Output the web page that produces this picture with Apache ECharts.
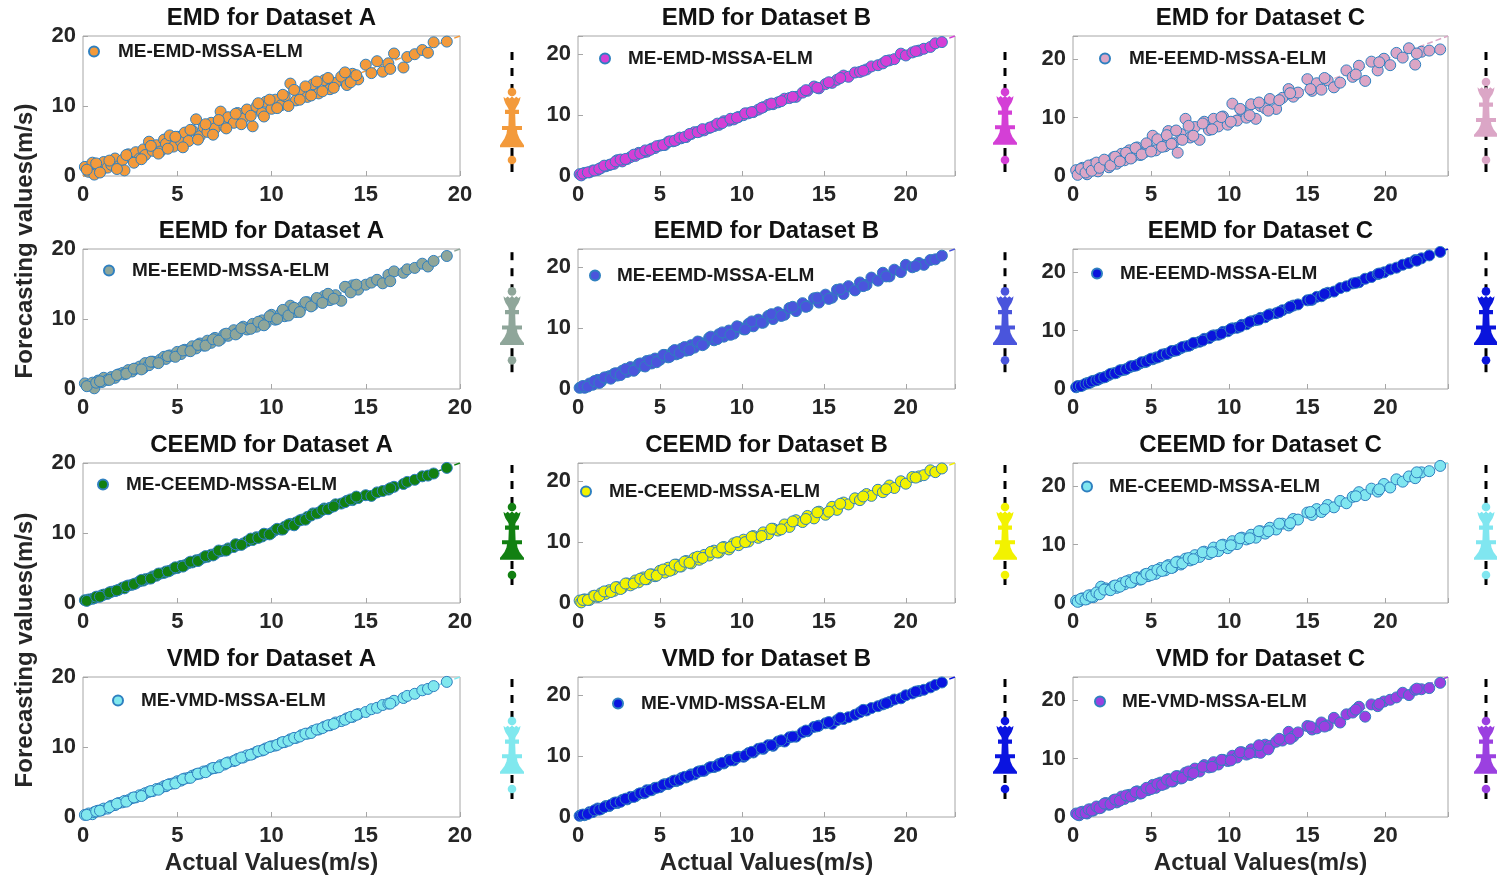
<!DOCTYPE html>
<html>
<head>
<meta charset="utf-8">
<title>Forecasting vs actual</title>
<script src="https://cdn.jsdelivr.net/npm/echarts@6/dist/echarts.min.js"></script>
<style>
  html, body { margin: 0; padding: 0; background: #fff; }
  #main { width: 1497px; height: 882px; }
</style>
</head>
<body>
<div id="main"></div>
<script>
// 实际值 (三个数据集)
var xA = [0.1, 0.3, 0.5, 0.6, 0.8, 1.0, 1.1, 1.3, 1.5, 1.7,
  1.9, 2.1, 2.2, 2.4, 2.6, 2.8, 3.0, 3.2, 3.3, 3.5,
  3.7, 3.9, 4.1, 4.3, 4.4, 4.6, 4.8, 5.0, 5.2, 5.4,
  5.6, 5.8, 6.0, 6.2, 6.4, 6.6, 6.8, 7.0, 7.3, 7.5,
  7.7, 8.0, 8.2, 8.5, 8.7, 9.0, 9.2, 9.5, 9.7, 10.0,
  10.2, 10.5, 10.7, 11.0, 11.3, 11.6, 11.9, 12.2, 12.5, 12.8,
  13.1, 13.4, 13.7, 14.0, 14.3, 14.6, 15.0, 15.3, 15.6, 15.9,
  16.2, 16.5, 17.0, 17.2, 17.6, 18.0, 18.3, 18.6, 19.3,
  0.2, 0.7, 0.9, 1.4, 1.8, 2.3, 2.7, 3.1, 3.6, 4.0,
  4.5, 4.9, 5.3, 5.7, 6.1, 6.5, 6.9, 7.2, 7.6, 8.1,
  8.4, 8.9, 9.3, 9.6, 9.9, 10.3, 10.6, 10.9, 11.2, 11.5,
  11.8, 12.1, 12.4, 12.7, 13.0, 13.3, 13.9, 14.2, 14.5, 16.3];
var xB = [0.1, 0.2, 0.4, 0.7, 0.9, 1.2, 1.4, 1.7, 1.9, 2.2,
  2.4, 2.7, 3.0, 3.2, 3.5, 3.7, 4.0, 4.2, 4.5, 4.7,
  5.0, 5.3, 5.5, 5.8, 6.0, 6.3, 6.6, 6.9, 7.1, 7.4,
  7.7, 8.0, 8.3, 8.6, 8.9, 9.2, 9.5, 9.8, 10.1, 10.4,
  10.7, 11.0, 11.3, 11.6, 11.9, 12.2, 12.6, 12.9, 13.3, 13.7,
  14.0, 14.4, 14.7, 15.1, 15.5, 15.8, 16.2, 16.5, 16.9, 17.2,
  17.6, 17.9, 18.3, 18.6, 19.0, 19.3, 19.7, 20.0, 20.4, 20.8,
  21.1, 21.5, 21.8, 22.2,
  0.3, 0.6, 1.0, 1.3, 1.6, 2.0, 2.3, 2.6, 2.9, 3.4,
  3.8, 4.1, 4.4, 4.8, 5.2, 5.6, 5.9, 6.2, 6.5, 6.8,
  7.3, 7.6, 8.1, 8.5, 8.8, 9.3, 9.7, 10.2, 10.6, 11.2,
  11.8, 12.4, 13.1, 13.9, 14.6, 15.3, 16.0, 17.4, 18.8, 20.6];
var xC = [0.2, 0.4, 0.6, 0.9, 1.1, 1.3, 1.6, 1.8, 2.1, 2.3,
  2.6, 2.8, 3.1, 3.3, 3.6, 3.8, 4.1, 4.3, 4.6, 4.8,
  5.1, 5.3, 5.6, 5.9, 6.1, 6.4, 6.7, 6.9, 7.2, 7.5,
  7.8, 8.1, 8.4, 8.7, 9.0, 9.3, 9.6, 9.9, 10.2, 10.5,
  10.8, 11.1, 11.4, 11.7, 12.0, 12.3, 12.6, 13.0, 13.4, 13.8,
  14.1, 14.4, 15.0, 15.3, 15.6, 15.9, 16.3, 16.7, 17.1, 17.5,
  17.9, 18.3, 18.7, 19.1, 19.5, 19.9, 20.3, 20.7, 21.1, 21.5,
  21.9, 22.3, 22.8, 23.5,
  0.3, 0.5, 0.8, 1.0, 1.2, 1.5, 1.7, 2.0, 2.4, 2.7,
  3.0, 3.4, 3.7, 4.0, 4.4, 4.7, 5.0, 5.4, 5.7, 6.0,
  6.3, 6.6, 7.0, 7.4, 7.7, 8.3, 8.9, 9.5, 10.1, 10.7,
  11.3, 11.9, 12.5, 13.2, 13.9, 15.2, 16.1, 18.1, 19.6, 22.0];

// 预测值
var fA1 = [1.3, 0.6, 1.9, 0.2, 1.4, 0.9, 2.0, 1.2, 1.6, 2.5,
  1.4, 2.3, 0.8, 3.1, 2.6, 3.4, 2.5, 3.8, 3.0, 4.9,
  3.6, 4.4, 3.5, 5.2, 4.6, 5.8, 4.2, 5.6, 4.9, 6.2,
  5.0, 6.5, 8.1, 5.7, 7.0, 6.3, 7.6, 6.8, 9.2, 7.1,
  8.4, 7.6, 9.0, 8.2, 9.5, 7.1, 9.9, 9.0, 10.6, 9.6,
  10.9, 10.1, 11.4, 13.2, 10.8, 12.0, 11.3, 13.1, 11.8, 13.7,
  12.4, 13.3, 14.2, 13.0, 14.6, 13.8, 15.9, 14.7, 16.4, 14.9,
  16.1, 17.5, 15.5, 17.0, 17.4, 18.0, 17.6, 19.1, 19.2,
  0.9, 1.8, 0.5, 2.2, 1.0, 3.0, 1.9, 2.4, 4.3, 3.2,
  3.9, 5.6, 4.1, 6.6, 5.2, 7.4, 5.9, 8.0, 6.8, 8.9,
  7.4, 8.6, 10.4, 8.5, 10.9, 9.7, 11.6, 10.0, 12.3, 10.9,
  12.8, 11.5, 13.5, 12.1, 14.0, 12.6, 14.8, 13.4, 14.4, 15.3];
var fB1 = [0.3, 0.1, 0.5, 0.6, 0.9, 1.0, 1.3, 1.6, 1.8, 2.0,
  2.6, 2.4, 2.8, 3.1, 3.3, 3.8, 3.9, 4.0, 4.5, 4.6,
  5.0, 5.1, 5.6, 5.7, 5.9, 6.2, 6.4, 6.9, 7.2, 7.3,
  7.5, 7.9, 8.2, 8.4, 9.0, 9.1, 9.3, 9.7, 10.0, 10.3,
  10.5, 10.9, 11.3, 11.7, 11.8, 12.1, 12.7, 12.8, 13.0, 13.7,
  14.0, 14.7, 14.4, 15.1, 15.3, 15.8, 16.5, 16.3, 17.0, 17.1,
  17.5, 18.0, 18.2, 18.5, 19.0, 19.2, 20.1, 19.8, 20.3, 20.6,
  20.9, 21.2, 21.8, 22.0,
  0.4, 0.6, 0.9, 1.2, 1.7, 1.9, 2.4, 2.7, 2.8, 3.5,
  3.7, 4.2, 4.3, 4.9, 5.1, 5.7, 5.8, 6.3, 6.4, 6.9,
  7.2, 7.7, 8.0, 8.6, 8.7, 9.4, 9.6, 10.3, 10.5, 11.2,
  11.9, 12.3, 13.0, 14.1, 14.5, 15.4, 16.1, 17.3, 18.9, 20.5];
var fC1 = [1.0, 0.5, 1.4, 0.3, 1.2, 2.0, 0.8, 1.9, 2.6, 1.5,
  3.2, 2.1, 3.8, 2.7, 4.4, 3.2, 4.9, 3.6, 4.1, 5.0,
  6.9, 4.4, 6.0, 5.1, 7.7, 5.6, 4.0, 7.2, 9.8, 6.6,
  8.4, 6.2, 9.3, 7.9, 9.8, 8.5, 10.2, 8.8, 12.4, 9.5,
  11.2, 10.0, 12.3, 9.8, 12.0, 11.6, 13.2, 11.5, 13.4, 14.9,
  13.6, 14.3, 16.6, 14.6, 15.9, 14.8, 16.4, 15.2, 16.0, 18.1,
  17.0, 18.9, 16.3, 19.6, 18.1, 20.1, 19.0, 21.1, 20.3, 21.9,
  19.1, 21.3, 21.5, 21.7,
  0.2, 1.2, 0.6, 1.8, 0.9, 2.3, 1.4, 2.8, 1.8, 3.3,
  2.5, 4.0, 3.0, 4.8, 3.7, 5.6, 4.2, 6.3, 5.0, 7.0,
  5.5, 7.8, 6.2, 8.6, 6.9, 9.0, 8.0, 10.1, 9.3, 11.5,
  10.4, 12.6, 11.2, 13.0, 14.2, 14.9, 16.8, 17.4, 19.5, 21.0];
var fA2 = [0.8, 0.5, 0.9, 0.1, 1.2, 1.0, 1.6, 1.3, 1.7, 1.6,
  2.1, 2.3, 2.1, 2.7, 2.5, 2.9, 3.2, 3.0, 3.7, 3.4,
  3.9, 3.8, 4.2, 4.6, 4.3, 4.8, 4.7, 5.3, 5.0, 5.6,
  5.5, 6.1, 5.8, 6.5, 6.2, 6.9, 6.6, 7.3, 7.1, 7.8,
  7.6, 8.4, 8.0, 8.9, 8.5, 9.3, 8.9, 9.8, 9.4, 10.6,
  9.9, 10.8, 10.4, 11.9, 11.0, 11.7, 12.4, 12.0, 12.8, 13.3,
  12.7, 13.4, 12.6, 14.5, 14.8, 14.2, 14.9, 15.2, 15.6, 15.1,
  16.3, 16.8, 16.6, 17.1, 17.3, 17.9, 17.5, 18.3, 19.0,
  0.4, 0.9, 1.1, 1.3, 2.0, 2.2, 2.9, 2.8, 3.9, 3.7,
  4.7, 4.6, 5.5, 5.4, 6.3, 6.2, 7.1, 6.9, 7.9, 7.8,
  8.7, 8.6, 9.6, 9.1, 10.4, 10.0, 11.3, 10.5, 11.6, 11.0,
  12.4, 11.8, 13.0, 12.3, 13.6, 12.9, 14.6, 13.8, 14.9, 15.4];
var fB2 = [0.2, 0.3, 0.2, 0.9, 0.7, 1.5, 1.2, 1.9, 2.1, 2.5,
  2.2, 3.0, 2.8, 3.6, 3.3, 4.1, 3.8, 4.6, 4.2, 5.0,
  4.8, 5.6, 5.2, 6.2, 5.7, 6.6, 6.3, 7.2, 6.8, 7.7,
  7.4, 8.4, 8.0, 9.0, 8.6, 9.6, 9.1, 10.2, 9.8, 10.7,
  10.3, 11.4, 10.9, 12.0, 11.5, 12.6, 12.2, 13.3, 12.8, 14.1,
  13.6, 14.9, 14.2, 15.5, 15.0, 16.3, 15.6, 16.9, 16.2, 17.5,
  17.1, 18.3, 17.8, 19.1, 18.5, 19.6, 19.2, 20.4, 20.0, 20.7,
  20.4, 21.2, 21.3, 21.9,
  0.5, 0.4, 1.3, 1.0, 1.9, 1.7, 2.6, 2.3, 3.3, 3.0,
  4.2, 3.7, 4.7, 4.4, 5.6, 5.3, 6.4, 5.9, 6.9, 6.4,
  7.8, 7.2, 8.6, 8.2, 9.3, 8.9, 10.3, 9.8, 11.1, 10.9,
  12.3, 12.0, 13.5, 13.5, 15.0, 14.8, 16.4, 16.9, 18.5, 20.2];
var fC2 = [0.3, 0.5, 0.6, 1.0, 1.1, 1.4, 1.6, 1.9, 2.1, 2.4,
  2.7, 2.8, 3.2, 3.3, 3.7, 3.9, 4.1, 4.4, 4.6, 4.9,
  5.1, 5.4, 5.6, 6.0, 6.1, 6.5, 6.7, 7.0, 7.3, 7.5,
  7.9, 8.1, 8.6, 8.7, 9.2, 9.3, 9.8, 9.9, 10.4, 10.5,
  11.0, 11.1, 11.6, 11.8, 12.2, 12.3, 12.8, 13.0, 13.5, 13.9,
  14.3, 14.5, 15.2, 15.3, 15.8, 15.9, 16.5, 16.7, 17.3, 17.6,
  18.1, 18.3, 18.9, 19.2, 19.7, 20.0, 20.5, 20.8, 21.3, 21.6,
  22.1, 22.4, 22.9, 23.5,
  0.5, 0.5, 0.9, 1.0, 1.3, 1.5, 1.8, 2.0, 2.6, 2.7,
  3.2, 3.4, 3.9, 4.0, 4.6, 4.7, 5.2, 5.4, 5.9, 6.0,
  6.5, 6.6, 7.2, 7.4, 7.9, 8.3, 9.1, 9.5, 10.3, 10.7,
  11.5, 11.9, 12.7, 13.2, 14.1, 15.3, 16.3, 18.2, 19.8, 22.0];
var fA3 = [0.4, 0.5, 0.6, 0.7, 0.9, 1.1, 1.2, 1.3, 1.6, 1.7,
  1.9, 2.2, 2.1, 2.5, 2.6, 2.8, 3.1, 3.2, 3.4, 3.5,
  3.8, 3.9, 4.2, 4.3, 4.5, 4.6, 4.9, 5.0, 5.3, 5.4,
  5.7, 5.8, 6.1, 6.2, 6.5, 6.6, 6.9, 7.0, 7.4, 7.5,
  7.8, 8.0, 8.3, 8.5, 8.8, 9.0, 9.4, 9.5, 9.8, 10.0,
  10.4, 10.5, 10.9, 11.3, 11.5, 11.9, 12.3, 12.8, 12.9, 13.5,
  13.6, 14.1, 14.2, 14.6, 14.7, 15.0, 15.4, 15.3, 15.8, 16.0,
  16.2, 16.6, 17.0, 17.3, 17.6, 18.1, 18.2, 18.5, 19.3,
  0.3, 0.9, 0.9, 1.5, 1.8, 2.4, 2.7, 3.3, 3.5, 4.2,
  4.5, 5.1, 5.2, 5.9, 6.0, 6.7, 6.8, 7.5, 7.5, 8.4,
  8.3, 9.2, 9.3, 9.9, 9.8, 10.6, 10.5, 11.2, 11.1, 11.8,
  11.9, 12.5, 12.8, 13.3, 13.4, 13.8, 14.4, 14.8, 15.2, 16.4];
var fB3 = [0.4, 0.1, 0.6, 0.5, 1.1, 1.0, 1.6, 1.5, 2.1, 2.0,
  2.6, 2.5, 3.2, 2.9, 3.7, 3.4, 4.2, 3.9, 4.7, 4.4,
  5.3, 5.0, 5.8, 5.5, 6.3, 6.0, 6.9, 6.5, 7.4, 7.1,
  7.9, 7.8, 8.6, 8.3, 9.2, 8.8, 9.8, 9.5, 10.4, 10.1,
  11.0, 10.7, 11.6, 11.3, 12.2, 11.9, 12.9, 12.5, 13.6, 13.3,
  14.3, 13.9, 15.0, 14.5, 15.8, 15.3, 16.5, 16.2, 17.2, 16.9,
  17.9, 17.6, 18.6, 18.2, 19.3, 18.9, 20.0, 19.6, 20.7, 20.8,
  21.0, 21.8, 21.5, 22.1,
  0.5, 0.5, 1.2, 1.1, 1.9, 1.8, 2.6, 2.3, 3.2, 3.2,
  4.0, 3.9, 4.7, 4.5, 5.5, 5.3, 6.3, 6.0, 6.8, 6.6,
  7.6, 7.4, 8.4, 8.3, 9.1, 9.2, 10.0, 10.0, 10.9, 11.0,
  12.2, 12.1, 13.4, 13.8, 14.9, 15.0, 16.3, 17.5, 18.7, 20.6];
var fC3 = [0.4, 0.3, 0.8, 0.7, 1.3, 1.0, 1.8, 2.8, 2.5, 2.3,
  2.9, 2.6, 3.4, 3.2, 3.9, 3.6, 4.4, 4.0, 4.9, 4.6,
  5.5, 5.0, 6.0, 5.6, 6.5, 6.1, 7.1, 6.6, 7.6, 7.3,
  8.2, 7.9, 8.8, 8.4, 9.5, 8.9, 10.0, 9.4, 10.6, 10.1,
  11.2, 10.9, 11.7, 11.2, 12.3, 11.9, 12.9, 12.6, 13.6, 13.3,
  14.4, 14.3, 15.5, 15.1, 16.1, 15.6, 16.8, 16.4, 17.5, 17.1,
  18.2, 19.0, 18.5, 19.6, 19.1, 20.4, 19.8, 21.2, 20.8, 21.7,
  21.4, 22.4, 22.6, 23.5,
  0.2, 0.7, 0.6, 1.3, 1.1, 1.8, 1.5, 2.3, 2.2, 3.0,
  2.8, 3.7, 3.5, 4.3, 4.1, 5.0, 4.8, 5.7, 5.5, 6.3,
  6.0, 7.0, 6.8, 7.7, 7.5, 8.7, 8.7, 9.9, 9.9, 11.1,
  11.1, 12.3, 12.3, 13.6, 13.7, 15.6, 16.1, 18.3, 19.5, 22.4];
var fA4 = [0.3, 0.5, 0.4, 0.7, 0.9, 1.0, 1.2, 1.2, 1.6, 1.7,
  2.0, 2.1, 2.3, 2.4, 2.7, 2.8, 3.1, 3.2, 3.4, 3.6,
  3.7, 4.0, 4.1, 4.4, 4.4, 4.7, 4.8, 5.1, 5.2, 5.5,
  5.6, 5.9, 6.1, 6.2, 6.5, 6.6, 6.9, 7.0, 7.4, 7.5,
  7.8, 8.0, 8.3, 8.5, 8.8, 9.0, 9.3, 9.5, 9.8, 10.1,
  10.2, 10.6, 10.7, 11.1, 11.3, 11.7, 11.9, 12.3, 12.5, 12.9,
  13.1, 13.5, 13.7, 14.1, 14.3, 14.7, 15.0, 15.4, 15.6, 16.0,
  16.2, 16.6, 17.0, 17.3, 17.6, 18.1, 18.3, 18.7, 19.3,
  0.3, 0.8, 0.9, 1.4, 1.9, 2.2, 2.8, 3.0, 3.7, 3.9,
  4.6, 4.8, 5.4, 5.6, 6.2, 6.4, 7.0, 7.1, 7.7, 8.1,
  8.5, 8.9, 9.4, 9.6, 10.0, 10.3, 10.7, 10.9, 11.3, 11.5,
  11.9, 12.0, 12.5, 12.7, 13.1, 13.3, 13.9, 14.3, 14.6, 16.2];
var fB4 = [0.2, 0.3, 0.3, 0.8, 0.8, 1.4, 1.3, 1.8, 1.8, 2.3,
  2.3, 2.8, 2.9, 3.3, 3.4, 3.8, 3.9, 4.4, 4.4, 4.8,
  4.9, 5.4, 5.4, 5.9, 5.9, 6.4, 6.5, 7.0, 7.0, 7.5,
  7.6, 8.1, 8.2, 8.7, 8.8, 9.4, 9.3, 9.9, 9.9, 10.5,
  10.6, 11.2, 11.2, 11.8, 11.7, 12.4, 12.4, 13.1, 13.2, 13.9,
  14.1, 14.8, 15.0, 15.4, 15.3, 15.9, 16.1, 16.4, 16.8, 17.2,
  17.5, 17.9, 18.2, 18.5, 18.9, 19.3, 19.5, 20.0, 20.3, 20.7,
  20.9, 21.3, 21.7, 22.1,
  0.4, 0.5, 1.1, 1.2, 1.6, 2.0, 2.4, 2.5, 3.0, 3.3,
  3.9, 4.0, 4.4, 4.8, 5.3, 5.6, 6.0, 6.1, 6.6, 6.8,
  7.4, 7.6, 8.2, 8.4, 8.9, 9.3, 9.8, 10.1, 10.7, 11.3,
  11.8, 12.6, 13.2, 14.2, 14.9, 15.6, 16.3, 17.6, 18.7, 20.6];
var fC4 = [0.6, 0.3, 0.9, 0.6, 1.3, 1.1, 1.7, 1.6, 2.4, 2.1,
  2.9, 2.5, 3.5, 3.1, 3.8, 3.6, 4.4, 4.0, 4.7, 4.6,
  5.5, 5.0, 5.9, 5.7, 6.5, 6.1, 7.0, 6.6, 7.6, 7.2,
  8.3, 7.8, 8.9, 8.5, 9.4, 9.0, 9.8, 9.6, 10.5, 10.2,
  11.1, 10.7, 11.6, 11.1, 11.0, 12.4, 12.2, 12.9, 13.1, 14.6,
  13.8, 14.5, 15.6, 15.0, 15.2, 16.2, 15.7, 17.0, 16.2, 17.6,
  17.9, 18.9, 17.2, 19.3, 19.0, 19.8, 20.1, 20.5, 21.3, 20.9,
  21.8, 21.9, 22.1, 23.0,
  0.4, 0.8, 0.7, 1.3, 1.1, 1.8, 1.5, 2.3, 2.2, 3.0,
  2.8, 3.7, 3.5, 4.3, 4.1, 5.0, 4.8, 5.7, 5.5, 6.4,
  6.1, 7.0, 6.7, 7.8, 7.5, 8.6, 8.6, 9.8, 9.7, 11.1,
  10.9, 12.3, 11.6, 13.4, 13.4, 15.5, 15.5, 18.4, 19.4, 22.0];

// 标题 / 图例
var titles = ['EMD for Dataset A', 'EMD for Dataset B', 'EMD for Dataset C',
  'EEMD for Dataset A', 'EEMD for Dataset B', 'EEMD for Dataset C',
  'CEEMD for Dataset A', 'CEEMD for Dataset B', 'CEEMD for Dataset C',
  'VMD for Dataset A', 'VMD for Dataset B', 'VMD for Dataset C'];
var legendNames = ['ME-EMD-MSSA-ELM', 'ME-EMD-MSSA-ELM', 'ME-EEMD-MSSA-ELM',
  'ME-EEMD-MSSA-ELM', 'ME-EEMD-MSSA-ELM', 'ME-EEMD-MSSA-ELM',
  'ME-CEEMD-MSSA-ELM', 'ME-CEEMD-MSSA-ELM', 'ME-CEEMD-MSSA-ELM',
  'ME-VMD-MSSA-ELM', 'ME-VMD-MSSA-ELM', 'ME-VMD-MSSA-ELM'];
var axisMax = [20, 23, 24];
var xTickStep = 5;
var yTickStep = 10;

// 右侧箱形图: [x, 下须, 下点, 底, 宽横, 窄横, 顶, 上点, 上须]
var glyphStats = [
  [0, 0, 2.5, 4.1, 6.5, 8.5, 10.4, 11.0, 16],
  [0, 0, 2.5, 4.4, 6.6, 8.4, 10.5, 11.0, 16],
  [0, 0, 2.5, 5.4, 7.5, 9.4, 11.6, 12.25, 16],
  [0, 1.6, 4.1, 6.0, 8.2, 10.1, 12.1, 12.7, 17.6],
  [0, 1.6, 4.1, 6.0, 8.2, 10.1, 12.1, 12.7, 17.6],
  [0, 1.6, 4.1, 6.0, 8.2, 10.1, 12.1, 12.7, 17.6],
  [0, 1.75, 4.0, 5.9, 8.1, 9.9, 11.9, 12.5, 17.75],
  [0, 1.75, 4.0, 5.9, 8.1, 9.9, 11.9, 12.5, 17.75],
  [0, 1.75, 4.0, 5.9, 8.1, 9.9, 11.9, 12.5, 17.75],
  [0, 1.75, 4.0, 5.9, 8.1, 9.9, 11.9, 12.5, 17.75],
  [0, 1.75, 4.0, 5.9, 8.1, 9.9, 11.9, 12.5, 17.75],
  [0, 1.75, 4.0, 5.9, 8.1, 9.9, 11.9, 12.5, 17.75]
];

var actual = [xA, xB, xC];
var forecast = [fA1, fB1, fC1, fA2, fB2, fC2, fA3, fB3, fC3, fA4, fB4, fC4];
var colors = ['#f39a3b', '#d43fd6', '#dba6c6',
  '#8fa69a', '#4a55dc', '#0a14dc',
  '#128012', '#f2f200', '#80e6f0',
  '#80e8ee', '#0a14e0', '#9b40e0'];

// 布局
var FONT = '"Liberation Sans", Arial, sans-serif';
var colLeft = [83, 578, 1073];
var colWidth = [377, 377, 375];
var rowTop = [36, 249, 463, 677];
var plotH = 140;
var glyphX = [512, 1005, 1487];
var legendPos = [
  [93, 52, 117], [604, 59, 627], [1104, 59, 1128],
  [108, 271, 131], [594, 276, 616], [1096, 274, 1119],
  [102, 485, 125], [585, 492, 608], [1086, 487, 1108],
  [117, 701, 140], [617, 704, 640], [1099, 702, 1121]
];

function renderGlyph(params, api) {
  var cx = api.coord([0, 0])[0];
  function py(d) { return api.coord([0, api.value(d)])[1]; }
  var wLo = py(1), dLo = py(2), base = py(3), wide = py(4),
    cross = py(5), top = py(6), dHi = py(7), wHi = py(8);
  var color = api.visual('color');
  var h = base - top;
  var bw = base - wide;
  // 左半边轮廓 (自上而下)
  var left = [
    [-8.5, top], [-8, top + 0.06 * h], [-6.5, top + 0.14 * h], [-4.5, top + 0.2 * h],
    [-3.5, top + 0.24 * h], [-3.2, cross - 2.2], [-7, cross - 2.2], [-7, cross + 2],
    [-3.2, cross + 2], [-3.6, wide - 2], [-10, wide - 2], [-10, wide + 2],
    [-5, wide + 2], [-5.5, wide + 0.3 * bw], [-7.5, wide + 0.55 * bw],
    [-10.5, wide + 0.78 * bw], [-12, base - 2], [-12, base]
  ];
  var pts = [];
  var i;
  for (i = left.length - 1; i >= 0; i--) pts.push([cx + left[i][0], left[i][1]]);
  var crown = [[-6.5, 1.8], [-4.3, 0], [-2.2, 1.8], [0, -0.5], [2.2, 1.8], [4.3, 0], [6.5, 1.8]];
  for (i = 0; i < crown.length; i++) pts.push([cx + crown[i][0], top + crown[i][1]]);
  for (i = 0; i < left.length; i++) pts.push([cx - left[i][0], left[i][1]]);
  return {
    type: 'group',
    children: [
      { type: 'line', shape: { x1: cx, y1: wHi, x2: cx, y2: wLo },
        style: { stroke: '#000', lineWidth: 3, lineDash: [8, 8] } },
      { type: 'polygon', shape: { points: pts }, style: { fill: color } },
      { type: 'circle', shape: { cx: cx, cy: dHi, r: 4.3 }, style: { fill: color } },
      { type: 'circle', shape: { cx: cx, cy: dLo, r: 4.3 }, style: { fill: color } }
    ]
  };
}

var grids = [], xAxes = [], yAxes = [], series = [], legends = [], texts = [];

for (var r = 0; r < 4; r++) {
  for (var c = 0; c < 3; c++) {
    var i = r * 3 + c;
    var m = axisMax[c];
    var gi = grids.length;
    grids.push({ left: colLeft[c], top: rowTop[r], width: colWidth[c], height: plotH,
      show: true, borderColor: '#a6a6a6', borderWidth: 1 });
    xAxes.push({
      gridIndex: gi, type: 'value', min: 0, max: m, interval: xTickStep,
      axisLine: { show: false }, splitLine: { show: false },
      axisTick: { inside: true, length: 5, lineStyle: { color: '#a6a6a6' } },
      axisLabel: { fontSize: 22, fontWeight: 'bold', color: '#262626', margin: 8, fontFamily: FONT,
        formatter: function (v) { return v % xTickStep === 0 ? String(v) : ''; } }
    });
    yAxes.push({
      gridIndex: gi, type: 'value', min: 0, max: m, interval: yTickStep,
      axisLine: { show: false }, splitLine: { show: false },
      axisTick: { inside: true, length: 5, lineStyle: { color: '#a6a6a6' } },
      axisLabel: { fontSize: 22, fontWeight: 'bold', color: '#262626', margin: 7, fontFamily: FONT,
        formatter: function (v) { return v % yTickStep === 0 ? String(v) : ''; } }
    });
    // 右侧小图
    grids.push({ left: glyphX[c] - 12, top: rowTop[r], width: 24, height: 144 });
    xAxes.push({ gridIndex: gi + 1, type: 'value', min: -1, max: 1, show: false });
    yAxes.push({ gridIndex: gi + 1, type: 'value', min: 0, max: 18, show: false });

    var xs = actual[c], ys = forecast[i];
    var pairs = xs.map(function (x, k) { return [x, ys[k]]; });
    var sName = legendNames[i] + '|' + i;

    series.push({
      type: 'line', xAxisIndex: gi, yAxisIndex: gi, data: [[0, 0], [m, m]],
      symbol: 'none', silent: true, z: 1,
      lineStyle: { color: colors[i], type: 'dashed', width: 1.5 }
    });
    series.push({
      name: sName, type: 'scatter', xAxisIndex: gi, yAxisIndex: gi, data: pairs,
      symbolSize: 11, z: 2,
      itemStyle: { color: colors[i], borderColor: '#2f80c0', borderWidth: 1, opacity: 1 }
    });
    series.push({
      type: 'custom', xAxisIndex: gi + 1, yAxisIndex: gi + 1, data: [glyphStats[i]],
      renderItem: renderGlyph, itemStyle: { color: colors[i] }, silent: true,
      encode: { x: 0, y: 1 }
    });

    var lp = legendPos[i];
    legends.push({
      data: [sName], left: lp[0] - 5, top: lp[1] - 10, padding: 0,
      itemWidth: 10, itemHeight: 10, icon: 'circle', selectedMode: false,
      formatter: function (n) { return n.split('|')[0]; },
      textStyle: { fontSize: 19, fontWeight: 'bold', color: '#1a1a1a', fontFamily: FONT,
        padding: [0, 0, 0, lp[2] - lp[0] - 10] }
    });

    texts.push({
      type: 'text', x: colLeft[c] + colWidth[c] / 2, y: rowTop[r] - 18,
      style: { text: titles[i], font: 'bold 24px ' + FONT, fill: '#111',
        textAlign: 'center', textVerticalAlign: 'middle', align: 'center', verticalAlign: 'middle' }
    });
  }
}

for (var k = 0; k < 3; k++) {
  texts.push({
    type: 'text', x: colLeft[k] + colWidth[k] / 2, y: 863,
    style: { text: 'Actual Values(m/s)', font: 'bold 24px ' + FONT, fill: '#262626',
      textAlign: 'center', textVerticalAlign: 'middle', align: 'center', verticalAlign: 'middle' }
  });
}
[241, 650].forEach(function (cy) {
  texts.push({
    type: 'text', x: 25, y: cy, rotation: Math.PI / 2,
    style: { text: 'Forecasting values(m/s)', font: 'bold 24px ' + FONT, fill: '#262626',
      textAlign: 'center', textVerticalAlign: 'middle', align: 'center', verticalAlign: 'middle' }
  });
});

var myChart = echarts.init(document.getElementById('main'));
myChart.setOption({
  animation: false,
  backgroundColor: '#fff',
  textStyle: { fontFamily: FONT },
  grid: grids,
  xAxis: xAxes,
  yAxis: yAxes,
  legend: legends,
  series: series,
  graphic: texts
});
</script>
</body>
</html>
